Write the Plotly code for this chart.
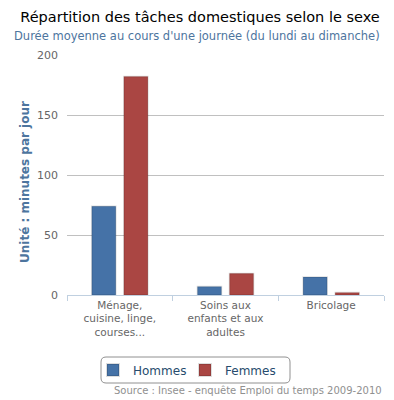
import plotly.graph_objects as go

categories = ["Ménage,<br>cuisine, linge,<br>courses...", "Soins aux<br>enfants et aux<br>adultes", "Bricolage"]
hommes = [74, 7, 15]
femmes = [182, 18, 2]
y_ticks = [0, 50, 100, 150, 200]

FONT = "DejaVu Sans, Verdana, sans-serif"
OFF = 8  # default page body margin
W, H = 394 - OFF, 400 - OFF
L, T = 67 - OFF, 55 - OFF
R = 394 - 384
B = 400 - 295
PW, PH = W - L - R, H - T - B

def px(x):
    return (x - OFF - L) / PW

def py(y):
    return (H - B - (y - OFF)) / PH

fig = go.Figure()
fig.add_trace(go.Bar(name="Hommes", x=categories, y=hommes,
                     marker=dict(color="#4572A7", line=dict(color="rgba(0,0,0,0.13)", width=1.5))))
fig.add_trace(go.Bar(name="Femmes", x=categories, y=femmes,
                     marker=dict(color="#AA4643", line=dict(color="rgba(0,0,0,0.13)", width=1.5))))

def rounded(x0, y0, x1, y1, r):
    X0, X1 = px(x0), px(x1)
    Y0, Y1 = py(y0), py(y1)
    rx, ry = r / PW, r / PH
    return (f"M {X0+rx},{Y0} L {X1-rx},{Y0} Q {X1},{Y0} {X1},{Y0-ry} "
            f"L {X1},{Y1+ry} Q {X1},{Y1} {X1-rx},{Y1} L {X0+rx},{Y1} "
            f"Q {X0},{Y1} {X0},{Y1+ry} L {X0},{Y0-ry} Q {X0},{Y0} {X0+rx},{Y0} Z")

fig.add_shape(type="path", xref="paper", yref="paper",
              path=rounded(101, 357, 290, 383, 5),
              line=dict(color="#909090", width=1), fillcolor="rgba(0,0,0,0)", layer="below")

fig.update_layout(
    width=W, height=H,
    margin=dict(l=L, r=R, t=T, b=B, pad=0),
    paper_bgcolor="white", plot_bgcolor="white",
    font=dict(family=FONT, color="#666666", size=11),
    barmode="group", bargap=0.393, bargroupgap=0.25,
    title=dict(text="Répartition des tâches domestiques selon le sexe",
               x=(200 - OFF) / W, xref="container", xanchor="center",
               y=1 - (17 - OFF) / H, yanchor="middle",
               font=dict(size=14.5, color="#000000", family=FONT)),
    showlegend=True,
    legend=dict(orientation="h", x=px(93), xanchor="left", y=py(370), yanchor="middle",
                font=dict(size=12, color="#274b6d", family=FONT),
                bgcolor="rgba(0,0,0,0)", itemsizing="constant", tracegroupgap=0,
                entrywidth=47, entrywidthmode="pixels"),
    xaxis=dict(showgrid=False, showline=True, linecolor="#C0D0E0", linewidth=1,
               ticks="outside", tickson="boundaries", ticklen=5, tickcolor="#C0D0E0",
               tickfont=dict(size=10.5, color="#666666"), fixedrange=True),
    yaxis=dict(range=[0, 200], tickvals=y_ticks, showgrid=True, gridcolor="#C0C0C0",
               gridwidth=1, zeroline=False, showline=False, ticks="",
               ticklabelstandoff=8, tickfont=dict(size=11, color="#666666"), fixedrange=True),
    annotations=[
        dict(text="Durée moyenne au cours d'une journée (du lundi au dimanche)",
             xref="paper", yref="paper", x=px(197), y=py(36), xanchor="center", yanchor="middle",
             showarrow=False, font=dict(size=11.5, color="#4D759E", family=FONT)),
        dict(text="<b>Unité : minutes par jour</b>", textangle=-90,
             xref="paper", yref="paper", x=px(25), y=py(182), xanchor="center", yanchor="middle",
             showarrow=False, font=dict(size=12, color="#4D759E", family=FONT)),
        dict(text="Source : Insee - enquête Emploi du temps 2009-2010",
             xref="paper", yref="paper", x=px(384), y=py(390), xanchor="right", yanchor="middle",
             showarrow=False, font=dict(size=10, color="#909090", family=FONT)),
    ],
)

fig.write_html("out.html")
